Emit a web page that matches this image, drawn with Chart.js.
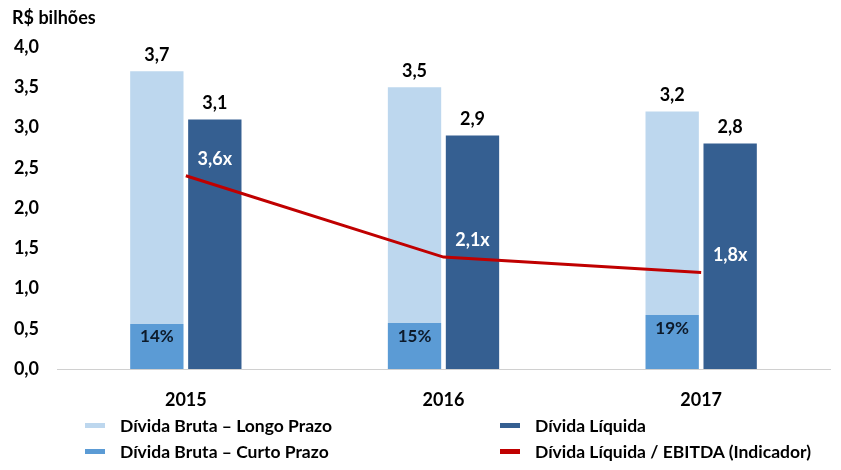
<!DOCTYPE html>
<html>
<head>
<meta charset="utf-8">
<script src="https://cdn.jsdelivr.net/npm/chart.js@4"></script>
<style>
  body { margin: 0; background: #fff; }
  #wrap { position: relative; width: 841px; height: 470px; font-family: Lato, "Open Sans", sans-serif; }
  #title { position: absolute; left: 12px; top: 6px; font-weight: bold; font-size: 18px; color: #000; }
  #legend { position: absolute; left: 85px; top: 416px; display: grid; grid-template-columns: 415px 330px; row-gap: 7px; }
  .item { display: flex; align-items: center; font-weight: bold; font-size: 17.5px; color: #000; height: 19px; }
  .box { width: 20px; height: 5px; margin-right: 15px; }
</style>
</head>
<body>
<div id="wrap">
  <canvas id="chart" width="841" height="470"></canvas>
  <div id="title">R$ bilhões</div>
  <div id="legend"></div>
</div>
<script>
// Data
const years = ['2015', '2016', '2017'];
const brutaTotal = [3.7, 3.5, 3.2];      // Dívida bruta (total)
const curtoPrazo = [0.56, 0.57, 0.67];    // height of short-term segment
const curtoPct = ['14%', '15%', '19%'];
const dividaLiquida = [3.1, 2.9, 2.8];
const indicadorPos = [2.40, 1.39, 1.20];  // where the red line sits
const indicadorLabels = ['3,6x', '2,1x', '1,8x'];
const yTicks = [0, 0.5, 1, 1.5, 2, 2.5, 3, 3.5, 4];

const longoPrazo = brutaTotal.map((t, i) => +(t - curtoPrazo[i]).toFixed(2));

const fmt = v => v.toFixed(1).replace('.', ',');
const FONT = 'Lato, "Open Sans", sans-serif';

// value labels drawn on top of the bars / line
const labelsPlugin = {
    id: 'labels',
    afterDatasetsDraw(chart) {
        const ctx = chart.ctx;
        ctx.save();
        ctx.textAlign = 'center';
        ctx.textBaseline = 'middle';
        const curto = chart.getDatasetMeta(0).data;
        const longo = chart.getDatasetMeta(1).data;
        const liq = chart.getDatasetMeta(2).data;
        const line = chart.getDatasetMeta(3).data;
        ctx.font = 'bold 18px ' + FONT;
        ctx.fillStyle = '#000';
        longo.forEach((bar, i) => ctx.fillText(fmt(brutaTotal[i]), bar.x, bar.y - 16));
        liq.forEach((bar, i) => ctx.fillText(fmt(dividaLiquida[i]), bar.x, bar.y - 16));
        ctx.font = 'bold 17px ' + FONT;
        ctx.fillStyle = '#0d1a2a';
        curto.forEach((bar, i) => ctx.fillText(curtoPct[i], bar.x, bar.y + 13));
        ctx.font = 'bold 18px ' + FONT;
        ctx.fillStyle = '#fff';
        line.forEach((pt, i) => ctx.fillText(indicadorLabels[i], liq[i].x, pt.y - 17));
        ctx.restore();
    }
};

const chart = new Chart(document.getElementById('chart'), {
    type: 'bar',
    data: {
        labels: years,
        datasets: [
            {
                label: 'Dívida Bruta – Curto Prazo',
                data: curtoPrazo,
                backgroundColor: '#5b9bd5',
                stack: 'bruta',
                order: 2
            },
            {
                label: 'Dívida Bruta – Longo Prazo',
                data: longoPrazo,
                backgroundColor: '#bdd7ee',
                stack: 'bruta',
                order: 2
            },
            {
                label: 'Dívida Líquida',
                data: dividaLiquida,
                backgroundColor: '#355f91',
                stack: 'liquida',
                order: 2
            },
            {
                type: 'line',
                label: 'Dívida Líquida / EBITDA (Indicador)',
                data: indicadorPos,
                borderColor: '#c00000',
                backgroundColor: '#c00000',
                borderWidth: 3,
                pointRadius: 0,
                stack: 'ind',
                order: 1
            }
        ]
    },
    options: {
        responsive: false,
        animation: false,
        layout: { padding: { top: 47, right: 11, bottom: 61, left: 0 } },
        datasets: {
            bar: { categoryPercentage: 0.45, barPercentage: 0.92 }
        },
        plugins: {
            legend: { display: false },
            tooltip: { enabled: false }
        },
        scales: {
            x: {
                stacked: true,
                grid: { display: false },
                border: { color: '#d0d0d0' },
                ticks: { color: '#000', padding: 12, font: { family: FONT, size: 18, weight: 'bold' } },
                afterFit: s => { s.height = 40; }
            },
            y: {
                stacked: true,
                min: 0,
                max: 4,
                grid: { display: false },
                border: { display: false },
                afterBuildTicks: s => { s.ticks = yTicks.map(v => ({ value: v })); },
                ticks: {
                    color: '#000',
                    padding: 10,
                    font: { family: FONT, size: 18, weight: 'bold' },
                    callback: v => fmt(v)
                },
                afterFit: s => { s.width = 57; }
            }
        }
    },
    plugins: [labelsPlugin]
});

// legend in two columns, same order as the reference
const legendOrder = [1, 2, 0, 3];
const legend = document.getElementById('legend');
legendOrder.forEach(i => {
    const ds = chart.data.datasets[i];
    const item = document.createElement('div');
    item.className = 'item';
    const box = document.createElement('span');
    box.className = 'box';
    box.style.background = ds.type === 'line' ? ds.borderColor : ds.backgroundColor;
    item.appendChild(box);
    item.appendChild(document.createTextNode(ds.label));
    legend.appendChild(item);
});
</script>
</body>
</html>
